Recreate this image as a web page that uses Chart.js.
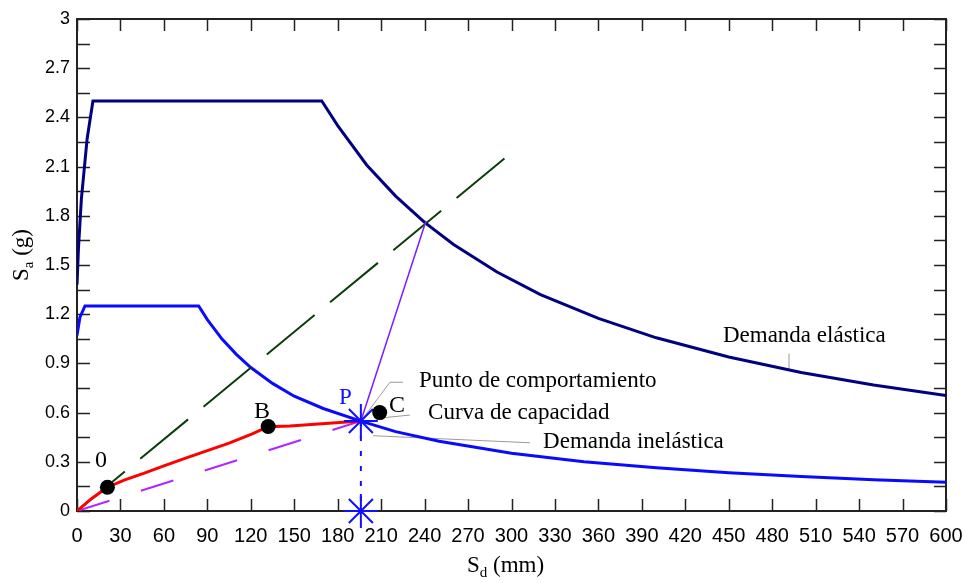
<!DOCTYPE html>
<html>
<head>
<meta charset="utf-8">
<script src="https://cdn.jsdelivr.net/npm/chart.js@4.4.1/dist/chart.umd.min.js"></script>
<style>body{margin:0;background:#fff}</style>
</head>
<body>
<canvas id="c" width="965" height="583"></canvas>
<script>
// espectro de demanda elástica (Sd en mm, Sa en g)
var elasticSd=[0,1,3,7,11,169,180,200,220,240,260,290,320,360,400,450,500,550,600];
var elasticSa=[1.38,1.6,1.9,2.27,2.5,2.5,2.35,2.11,1.92,1.76,1.625,1.457,1.32,1.174,1.056,0.939,0.845,0.768,0.704];

// espectro de demanda inelástica
var inelasticSd=[0,2,5.5,84,90,100,110,120,135,150,170,196,220,250,300,350,400,450,500,550,600];
var inelasticSa=[1.07,1.18,1.25,1.25,1.167,1.05,0.955,0.875,0.778,0.70,0.625,0.548,0.484,0.425,0.352,0.30,0.263,0.233,0.21,0.191,0.175];

// curva de capacidad
var capSd=[0,10,21,33,46,60,75,90,105,121,127,132,137,147,196];
var capSa=[0,0.075,0.145,0.19,0.229,0.275,0.322,0.368,0.414,0.47,0.495,0.515,0.516,0.519,0.549];

// rectas auxiliares
var greenSd=[0,298], greenSa=[0,2.17];
var purpleSd=[0,196], purpleSa=[0,0.549];
var violetSd=[196,241], violetSa=[0.549,1.77];
var dropSd=[196,196], dropSa=[0.549,0];

// puntos
var starSd=[196,196], starSa=[0.549,0];
var dotSd=[21,132,209], dotSa=[0.145,0.515,0.60];

// textos (posición en unidades de los ejes)
var labels=[
  {t:"0",x:12.4,y:0.266,c:"#000",f:"24px 'Liberation Serif'"},
  {t:"B",x:122.2,y:0.567,c:"#000",f:"24px 'Liberation Serif'"},
  {t:"C",x:215.4,y:0.604,c:"#000",f:"24px 'Liberation Serif'"},
  {t:"P",x:180.9,y:0.652,c:"#1010ff",f:"23px 'Liberation Serif'"},
  {t:"Punto de comportamiento",x:236.1,y:0.755,c:"#000",f:"23px 'Liberation Serif'"},
  {t:"Curva de capacidad",x:242.4,y:0.561,c:"#000",f:"23px 'Liberation Serif'"},
  {t:"Demanda inelástica",x:321.8,y:0.386,c:"#000",f:"23px 'Liberation Serif'"},
  {t:"Demanda elástica",x:446,y:1.032,c:"#000",f:"23px 'Liberation Serif'"}
];
var leaders=[
  [[197,0.56],[216.1,0.785],[225.1,0.785]],
  [[209.6,0.567],[229.9,0.585]],
  [[204.4,0.459],[312.8,0.416]],
  [[491.6,0.96],[491.6,0.869]]
];

function pts(xs,ys){
  return xs.map(function(v,i){return {x:v,y:ys[i]};});
}

var marco={
  id:'marco',
  beforeDatasetsDraw:function(chart){
    var ctx=chart.ctx,a=chart.chartArea,xs=chart.scales.x,ys=chart.scales.y;
    ctx.save();
    ctx.strokeStyle='#222';
    ctx.lineWidth=1.5;
    ctx.beginPath();
    xs.ticks.forEach(function(t){
      var px=Math.round(xs.getPixelForValue(t.value))+0.5;
      ctx.moveTo(px,a.bottom);ctx.lineTo(px,a.bottom-12);
      ctx.moveTo(px,a.top);ctx.lineTo(px,a.top+12);
    });
    ys.ticks.forEach(function(t){
      var py=Math.round(ys.getPixelForValue(t.value))+0.5;
      ctx.moveTo(a.left,py);ctx.lineTo(a.left+13,py);
      ctx.moveTo(a.right,py);ctx.lineTo(a.right-12,py);
    });
    ctx.stroke();
    ctx.lineWidth=2;
    ctx.strokeRect(a.left,a.top,a.right-a.left,a.bottom-a.top);
    // líneas guía de los textos
    ctx.strokeStyle='#9a9a9a';
    ctx.lineWidth=1;
    leaders.forEach(function(l){
      ctx.beginPath();
      l.forEach(function(p,i){
        var px=xs.getPixelForValue(p[0]),py=ys.getPixelForValue(p[1]);
        if(i==0)ctx.moveTo(px,py);else ctx.lineTo(px,py);
      });
      ctx.stroke();
    });
    ctx.restore();
  },
  afterDraw:function(chart){
    var ctx=chart.ctx,xs=chart.scales.x,ys=chart.scales.y;
    ctx.save();
    ctx.textBaseline='alphabetic';
    ctx.textAlign='left';
    labels.forEach(function(l){
      ctx.font=l.f;ctx.fillStyle=l.c;
      ctx.fillText(l.t,xs.getPixelForValue(l.x),ys.getPixelForValue(l.y));
    });
    // títulos de ejes con subíndice
    ctx.fillStyle='#000';
    function sub(x,y,main,s,rest){
      ctx.font="23px 'Liberation Serif'";
      ctx.fillText(main,x,y);
      var w=ctx.measureText(main).width;
      ctx.font="15px 'Liberation Serif'";
      ctx.fillText(s,x+w,y+5);
      var w2=ctx.measureText(s).width;
      ctx.font="23px 'Liberation Serif'";
      ctx.fillText(rest,x+w+w2,y);
    }
    sub(467,572,'S','d',' (mm)');
    ctx.translate(28,281);
    ctx.rotate(-Math.PI/2);
    sub(0,0,'S','a',' (g)');
    ctx.restore();
  }
};

function line(xs,ys,color,width,dash){
  return {data:pts(xs,ys),showLine:true,borderColor:color,backgroundColor:color,
    borderWidth:width,borderDash:dash||[],pointRadius:0,tension:0,fill:false};
}

function noPad(s){
  s.paddingLeft=0;s.paddingRight=0;s.paddingTop=0;s.paddingBottom=0;
}

var datasets=[
  {data:pts(dotSd,dotSa),showLine:false,pointRadius:7.5,pointBackgroundColor:'#000',pointBorderColor:'#000',pointBorderWidth:0},
  {data:pts(starSd,starSa),showLine:false,pointStyle:'star',pointRadius:17,pointBorderColor:'#1010ff',pointBorderWidth:2,clip:false},
  line(capSd,capSa,'#ff0000',3),
  line(violetSd,violetSa,'#7a1cff',1.5),
  line(dropSd,dropSa,'#1010ff',2,[5,10]),
  line(purpleSd,purpleSa,'#b026ff',2,[34,33]),
  line(greenSd,greenSa,'#0b3d0b',2,[62,20]),
  line(inelasticSd,inelasticSa,'#0a0aff',3),
  line(elasticSd,elasticSa,'#000080',3)
];

new Chart(document.getElementById('c'),{
  type:'scatter',
  data:{datasets:datasets},
  options:{
    responsive:false,
    animation:false,
    layout:{padding:{left:0,top:14,right:19,bottom:0}},
    plugins:{legend:{display:false},tooltip:{enabled:false}},
    scales:{
      x:{
        type:'linear',min:0,max:600,
        grid:{display:false,drawTicks:false},border:{display:false},
        ticks:{stepSize:30,padding:13,color:'#000',font:{family:"'Liberation Sans Narrow', 'Liberation Sans', Arial",size:20},maxRotation:0,autoSkip:false},
        afterFit:function(s){s.height=72;noPad(s);}
      },
      y:{
        type:'linear',min:0,max:3,
        grid:{display:false,drawTicks:false},border:{display:false},
        ticks:{stepSize:0.15,padding:7,color:'#000',font:{family:"'Liberation Sans', Arial",size:18},autoSkip:false,
          callback:function(v,i){return i%2==0?String(Number(v.toFixed(2))):'';}},
        afterFit:function(s){s.width=77;noPad(s);}
      }
    }
  },
  plugins:[marco]
});
</script>
</body>
</html>
